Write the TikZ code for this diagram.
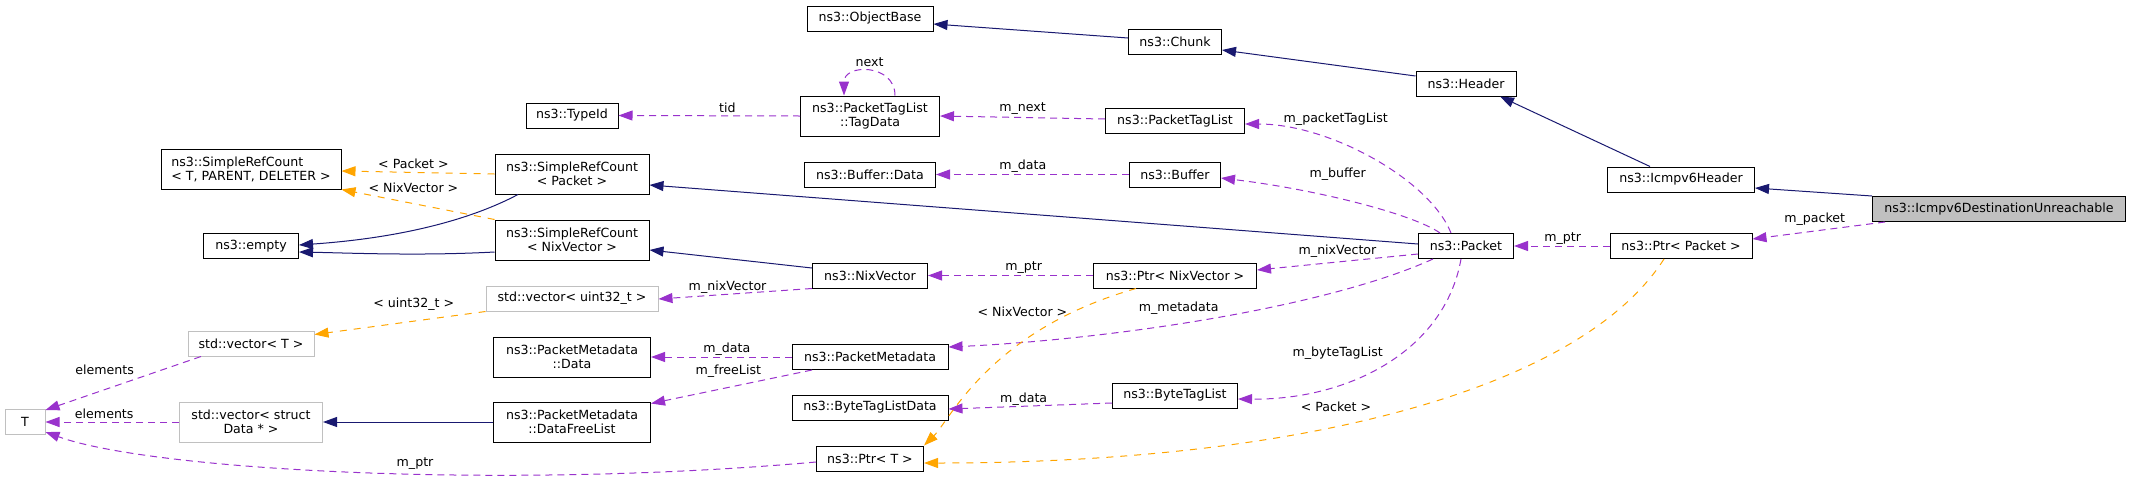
\documentclass[tikz,border=0pt]{standalone}
\usepackage[svgnames]{xcolor}
\usepackage{fontspec}
\setmainfont{DejaVu Sans}
\usepackage{tikz}
\usetikzlibrary{arrows.meta}

\begin{document}
\begin{tikzpicture}[x=1pt,y=-1pt,
 cls/.style={draw=black,line width=1pt,fill=white,inner sep=0pt,minimum height=25pt,align=center,font=\fontsize{12.6}{14}\selectfont},
 cls2/.style={cls,minimum height=40pt},
 undoc/.style={draw=Silver},
 lbl/.style={inner sep=0pt,font=\fontsize{12.6}{14}\selectfont},
 inhedge/.style={draw=MidnightBlue,line width=1pt,-{Triangle[length=14pt,width=10pt]}},
 memedge/.style={draw=DarkOrchid,line width=1pt,dash pattern=on 7pt off 5pt,-{Triangle[length=14pt,width=10pt]}},
 tmpledge/.style={draw=Orange,line width=1pt,dash pattern=on 7pt off 7pt,-{Triangle[length=14pt,width=10pt]}}]
\useasboundingbox (0,0) rectangle (2131,480);

\node[cls,minimum width=126pt] (objbase) at (870,18.5) {ns3::ObjectBase};
\node[cls,minimum width=93pt] (chunk) at (1175,41.5) {ns3::Chunk};
\node[cls,minimum width=100pt] (header) at (1466,83.5) {ns3::Header};
\node[cls,minimum width=147pt] (icmphdr) at (1681,179.5) {ns3::Icmpv6Header};
\node[cls,minimum width=253pt,fill=Silver] (dest) at (1999,209) {ns3::Icmpv6DestinationUnreachable};
\node[cls,minimum width=95pt] (packet) at (1466,246) {ns3::Packet};
\node[cls,minimum width=142pt] (ptrpkt) at (1681,246) {ns3::Ptr< Packet >};
\node[cls,minimum width=92pt] (typeid) at (572,115.5) {ns3::TypeId};
\node[cls2,minimum width=139pt] (tagdata) at (870,116) {ns3::PacketTagList\\::TagData};
\node[cls,minimum width=139pt] (ptaglist) at (1175,121) {ns3::PacketTagList};
\node[cls,minimum width=131pt] (bufdata) at (870,174.5) {ns3::Buffer::Data};
\node[cls,minimum width=91pt] (buffer) at (1175,174.5) {ns3::Buffer};
\node[cls2,minimum width=180pt,align=left] (srct) at (251,169) {ns3::SimpleRefCount\\< T, PARENT, DELETER >};
\node[cls2,minimum width=154pt] (srcpkt) at (572,174) {ns3::SimpleRefCount\\< Packet >};
\node[cls2,minimum width=154pt] (srcnix) at (572,240) {ns3::SimpleRefCount\\< NixVector >};
\node[cls,minimum width=95pt] (empty) at (251,246) {ns3::empty};
\node[cls,minimum width=115pt] (nixvec) at (870,275.5) {ns3::NixVector};
\node[cls,minimum width=163pt] (ptrnix) at (1175,275.5) {ns3::Ptr< NixVector >};
\node[cls,undoc,minimum width=172pt] (vecu32) at (572,298.5) {std::vector< uint32\_t >};
\node[cls,undoc,minimum width=126pt] (vect) at (251,343.5) {std::vector< T >};
\node[cls2,minimum width=157pt] (pmdata) at (572,357) {ns3::PacketMetadata\\::Data};
\node[cls,minimum width=156pt] (pmeta) at (870,357) {ns3::PacketMetadata};
\node[cls,minimum width=125pt] (bytetag) at (1175,395.5) {ns3::ByteTagList};
\node[cls,minimum width=156pt] (btldata) at (870,407.5) {ns3::ByteTagListData};
\node[cls,undoc,minimum width=40pt] (tnode) at (25,422) {T};
\node[cls2,undoc,minimum width=143pt] (vecdata) at (251,422) {std::vector< struct\\Data * >};
\node[cls2,minimum width=157pt] (freelist) at (572,422) {ns3::PacketMetadata\\::DataFreeList};
\node[cls,minimum width=107pt] (ptrt) at (870,458.5) {ns3::Ptr< T >};

\draw[inhedge] ([yshift=3.5pt]chunk.west) -- ([yshift=-5.5pt]objbase.east);
\draw[inhedge] ([yshift=7.5pt]header.west) -- ([yshift=-8.5pt]chunk.east);
\draw[inhedge] ([xshift=-31pt]icmphdr.north) -- ([xshift=34pt]header.south);
\draw[inhedge] (dest.north west) -- ([yshift=-8.5pt]icmphdr.east);
\draw[inhedge] ([yshift=2pt]packet.west) -- ([yshift=-11pt]srcpkt.east);
\draw[inhedge] ([yshift=7.5pt]nixvec.west) -- ([yshift=-10pt]srcnix.east);
\draw[inhedge] (freelist.west) -- (vecdata.east);
\draw[inhedge] ([xshift=-54pt]srcpkt.south) .. controls (470,220) and (400,238) .. ([yshift=1pt]empty.east);
\draw[inhedge] ([yshift=-12pt]srcnix.west) .. controls (420,256) and (350,253) .. ([yshift=-6pt]empty.east);

\draw[memedge] ([xshift=13pt]dest.south west) -- node[lbl,pos=.53,yshift=12pt] {m\_packet} ([yshift=7pt]ptrpkt.east);
\draw[memedge] (ptrpkt.west) -- node[lbl,pos=.49,yshift=7pt] {m\_ptr} (packet.east);
\draw[memedge] ([xshift=-15pt]packet.north) .. controls (1430,180) and (1330,124) .. node[lbl,pos=.65,yshift=23pt] {m\_packetTagList} ([yshift=-3pt]ptaglist.east);
\draw[memedge] ([xshift=-26pt]packet.north) .. controls (1415,215) and (1320,190) .. node[lbl,pos=.6,xshift=4pt,yshift=23pt] {m\_buffer} ([yshift=-3.5pt]buffer.east);
\draw[memedge] ([yshift=-8pt]packet.west) -- node[lbl,pos=.5,yshift=11pt] {m\_nixVector} ([yshift=5.5pt]ptrnix.east);
\draw[memedge] ([xshift=-33pt]packet.south) .. controls (1320,310) and (1100,340) .. node[lbl,pos=.55,yshift=16pt] {m\_metadata} ([yshift=10pt]pmeta.east);
\draw[memedge] ([xshift=-5pt]packet.south) .. controls (1445,350) and (1350,400) .. node[lbl,pos=.65,xshift=-9pt,yshift=29pt] {m\_byteTagList} ([yshift=-3.5pt]bytetag.east);
\draw[memedge] (ptrnix.west) -- node[lbl,pos=.42,yshift=7.5pt] {m\_ptr} (nixvec.east);
\draw[memedge] (nixvec.south west) -- node[lbl,pos=.55,yshift=7pt] {m\_nixVector} ([yshift=-0.5pt]vecu32.east);
\draw[memedge] ([yshift=2pt]ptaglist.west) -- node[lbl,pos=.5,yshift=9pt] {m\_next} (tagdata.east);
\draw[memedge] ([xshift=25pt]tagdata.north) .. controls +(0,-32) and +(0,-32) .. node[lbl,pos=.5,yshift=9pt] {next} ([xshift=-26pt]tagdata.north);
\draw[memedge] (tagdata.west) -- node[lbl,pos=.4,yshift=8pt] {tid} (typeid.east);
\draw[memedge] (buffer.west) -- node[lbl,pos=.55,yshift=8pt] {m\_data} (bufdata.east);
\draw[memedge] ([yshift=-7.5pt]bytetag.west) -- node[lbl,pos=.54,yshift=7pt] {m\_data} ([yshift=-1.5pt]btldata.east);
\draw[memedge] (pmeta.west) -- node[lbl,pos=.46,yshift=8pt] {m\_data} (pmdata.east);
\draw[memedge] ([xshift=-58pt]pmeta.south) -- node[lbl,pos=.52,yshift=16pt] {m\_freeList} ([yshift=-2pt]freelist.north east);
\draw[memedge] (vecdata.west) -- node[lbl,pos=.56,yshift=8pt] {elements} (tnode.east);
\draw[memedge] ([xshift=-50pt]vect.south) -- node[lbl,pos=.62,yshift=19.5pt] {elements} ([yshift=12pt]tnode.east);
\draw[memedge] ([yshift=-3.5pt]ptrt.west) .. controls (500,490) and (150,470) .. node[lbl,pos=.42,xshift=-5.5pt,yshift=11pt] {m\_ptr} ([yshift=-10pt]tnode.east);

\draw[tmpledge] ([xshift=-17pt]ptrpkt.south) .. controls (1580,390) and (1300,463) .. node[lbl,pos=.58,xshift=-3.5pt,yshift=18.5pt] {< Packet >} ([yshift=-4.5pt]ptrt.east);
\draw[tmpledge] ([xshift=-39pt]ptrnix.south) .. controls (990,330) and (950,420) .. node[lbl,pos=.25,xshift=-22.5pt,yshift=15pt] {< NixVector >} (ptrt.north east);
\draw[tmpledge] (vecu32.south west) -- node[lbl,pos=.42,yshift=17pt] {< uint32\_t >} ([yshift=9pt]vect.east);
\draw[tmpledge] (srcpkt.west) -- node[lbl,pos=.53,yshift=9pt] {< Packet >} ([yshift=-2pt]srct.east);
\draw[tmpledge] (srcnix.north west) -- node[lbl,pos=.53,yshift=15.5pt] {< NixVector >} (srct.south east);
\end{tikzpicture}
\end{document}
